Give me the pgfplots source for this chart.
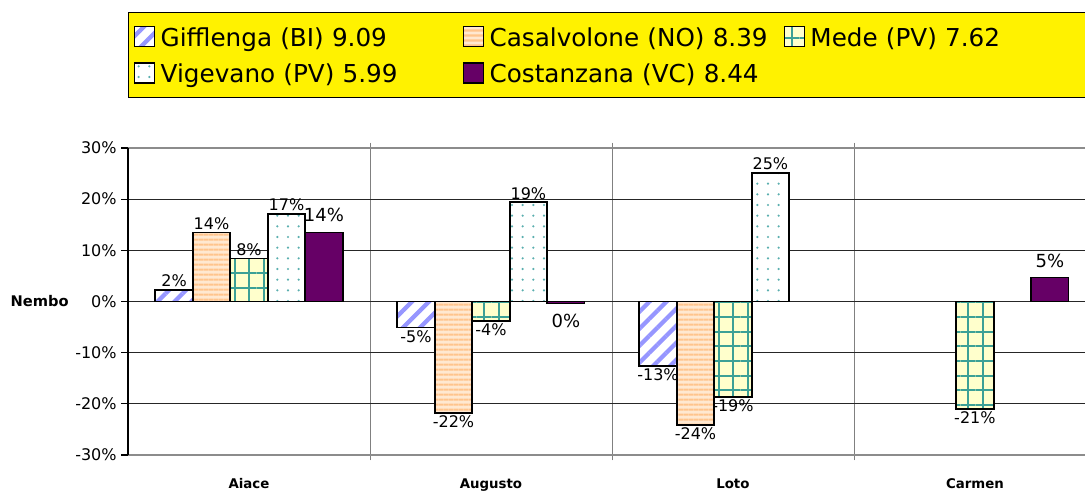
\documentclass[border=0pt]{standalone}
\usepackage{fontspec}
\setmainfont{DejaVu Sans}
\usepackage{pgfplots}
\pgfplotsset{compat=1.18}
\usetikzlibrary{patterns.meta}

\definecolor{stripeblue}{RGB}{150,150,255}
\definecolor{peachfill}{RGB}{255,232,208}
\definecolor{peachline}{RGB}{255,196,140}
\definecolor{medefill}{RGB}{255,255,204}
\definecolor{medeline}{RGB}{60,160,150}
\definecolor{dotteal}{RGB}{90,175,175}
\definecolor{plum}{RGB}{102,0,102}

\tikzset{
  giff/.style={fill=white, postaction={pattern={Lines[angle=45,distance=9pt,line width=3.2pt]}, pattern color=stripeblue}},
  casa/.style={fill=peachfill, postaction={pattern={Lines[angle=0,distance=4pt,line width=1.8pt]}, pattern color=peachline}},
  mede/.style={fill=medefill,
    postaction={pattern={Lines[angle=0,distance=11pt,line width=1.6pt]}, pattern color=medeline},
    postaction={pattern={Lines[angle=90,distance=11pt,line width=1.6pt]}, pattern color=medeline}},
  vige/.style={fill=white, postaction={pattern={Dots[distance=8pt,radius=0.9pt]}, pattern color=dotteal}},
  cost/.style={fill=plum},
}

\begin{document}
\begin{tikzpicture}
\begin{axis}[
    ybar=0pt,
    bar width=28.1pt,
    scale only axis,
    width=717.75pt,
    height=230.25pt,
    xmin=-0.5, xmax=3.455,
    ymin=-30, ymax=30,
    ytick={-30,-20,...,30},
    yticklabel={\pgfmathprintnumber{\tick}\%},
    /pgf/number format/assume math mode=true,
    xtick={0,1,2,3},
    xticklabels={Aiace,Augusto,Loto,Carmen},
    minor xtick={0.5,1.5,2.5},
    xminorgrids,
    ymajorgrids,
    major grid style={draw=black!85, line width=0.6pt},
    minor grid style={draw=gray, line width=0.6pt},
    axis x line*=box,
    axis y line*=left,
    x axis line style={draw=gray!90, line width=1.4pt},
    y axis line style={draw=black, line width=1.1pt},
    tick align=outside,
    major tick length=5pt,
    minor tick length=4pt,
    major x tick style={draw=none},
    minor x tick style={draw=gray, line width=0.6pt},
    ytick style={draw=black, line width=0.8pt},
    yticklabel style={font=\fontsize{12}{13}\selectfont},
    xticklabel style={font=\bfseries\fontsize{10}{12}\selectfont, yshift=-9pt},
    ylabel={Nembo},
    ylabel style={at={(axis description cs:0,0.5)}, rotate=-90, anchor=east, xshift=-41pt, font=\bfseries\fontsize{11}{12}\selectfont},
    clip=false,
    point meta=explicit symbolic,
    visualization depends on={rawy \as \rawy},
    nodes near coords={\pgfplotspointmeta\%},
    every node near coord/.append style={
        font=\fontsize{12}{13}\selectfont, inner sep=1.5pt,
        /utils/exec={\pgfmathparse{\rawy<0}\ifnum\pgfmathresult=1 \def\myanc{north}\else\def\myanc{south}\fi},
        anchor=\myanc},
    legendsq/.style={legend image code/.code={\draw[##1, draw=black, line width=1pt] (0pt,-7.5pt) rectangle (15pt,7.5pt); \path (17pt,0);}},
    legend columns=3,
    legend cell align=left,
    legend style={
        at={(axis description cs:0,1)}, anchor=south west, yshift=37.5pt,
        fill=yellow, draw=black, line width=0.8pt,
        inner xsep=4pt, inner ysep=7pt,
        row sep=5pt,
        font=\fontsize{18.5}{20}\selectfont,
        nodes={inner sep=2pt, text width=218.5pt, text height=16.5pt, text depth=2pt, align=left},
        /tikz/column 2/.style={column sep=6pt},
    },
]
\addplot[giff, draw=black, line width=1.3pt, legendsq]
    coordinates {(0,2.3) [2] (1,-5.1) [-5] (2,-12.6) [-13]};
\addplot[casa, draw=black, line width=1.3pt, legendsq]
    coordinates {(0,13.5) [14] (1,-21.8) [-22] (2,-24.1) [-24]};
\addplot[mede, draw=black, line width=1.3pt, legendsq]
    coordinates {(0,8.4) [8] (1,-3.8) [-4] (2,-18.6) [-19] (3,-21.0) [-21]};
\addplot[vige, draw=black, line width=1.3pt, legendsq]
    coordinates {(0,17.1) [17] (1,19.4) [19] (2,25.1) [25]};
\addplot[cost, draw=black, line width=1.3pt, legendsq,
    every node near coord/.append style={font=\fontsize{13.5}{14}\selectfont, inner sep=7pt}]
    coordinates {(0,13.5) [14] (1,-0.4) [0] (3,4.7) [5]};
\legend{Gifflenga (BI) 9.09, Casalvolone (NO) 8.39, Mede (PV) 7.62,
        Vigevano (PV) 5.99, Costanzana (VC) 8.44}
\end{axis}
\pgfresetboundingbox
\useasboundingbox (-96pt,-28.5pt) rectangle (717.75pt,341.25pt);
\end{tikzpicture}
\end{document}
